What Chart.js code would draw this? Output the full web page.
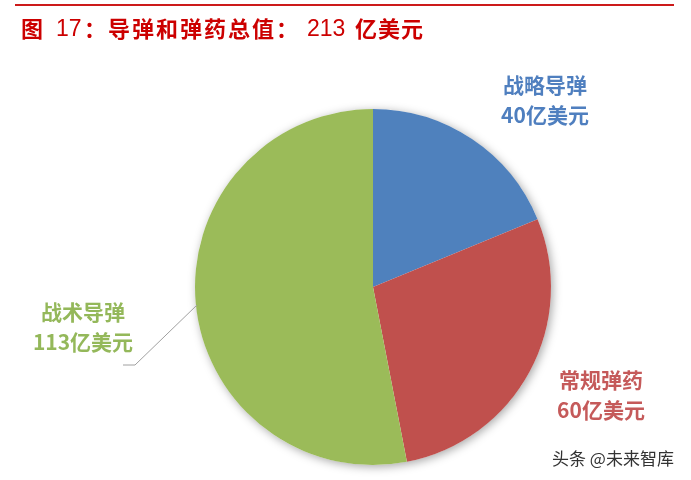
<!DOCTYPE html>
<html><head><meta charset="utf-8">
<script src="https://cdn.jsdelivr.net/npm/chart.js@4/dist/chart.umd.min.js"></script>
<style>
html,body{margin:0;padding:0;background:#fff;}
#wrap{position:relative;width:691px;height:480px;overflow:hidden;}
#line{position:absolute;left:15px;top:4px;width:659px;height:2px;background:#CC1A1A;}
.t{position:absolute;top:13px;font-family:"Noto Sans CJK SC","Noto Sans",sans-serif;font-weight:bold;font-size:22px;color:#CC0000;white-space:pre;line-height:28px;}
.n{font-family:"Liberation Sans",Arial,sans-serif;font-weight:normal;font-size:23px;top:14px;}
#wm{position:absolute;left:552px;top:446px;font-family:"Noto Sans CJK SC",sans-serif;font-size:17px;color:#333;line-height:24px;white-space:pre;}
canvas{position:absolute;left:0;top:0;}
</style></head>
<body><div id="wrap">
<canvas id="c" width="691" height="480"></canvas>
<div id="line"></div>
<span class="t" style="left:21px">图</span>
<span class="t n" style="left:56px">17</span>
<span class="t" style="left:84px;letter-spacing:2px">：导弹和弹药总值：</span>
<span class="t n" style="left:307px">213</span>
<span class="t" style="left:355px;letter-spacing:1px">亿美元</span>
<div id="wm">头条 @未来智库</div>
</div>
<script>
const categories = ["战略导弹", "常规弹药", "战术导弹"];
const values = [40, 60, 113];
const valueLabels = ["40亿美元", "60亿美元", "113亿美元"];
const colors = ["#4F81BD", "#C0504D", "#9BBB59"];
const textColors = ["#4F7FBF", "#C55A5A", "#94B85A"];

// label offsets from pie center (px)
const labelPos = [[172, -187], [228, -0 + 108], [-290, 40]];

const labelPlugin = {
  id: 'labels',
  beforeDatasetsDraw(chart) {
    const ctx = chart.ctx;
    ctx.save();
    ctx.shadowColor = 'rgba(0,0,0,0.35)';
    ctx.shadowBlur = 10;
    ctx.shadowOffsetX = 2;
    ctx.shadowOffsetY = 2;
    const arc = chart.getDatasetMeta(0).data[0];
    ctx.beginPath();
    ctx.arc(arc.x, arc.y, arc.outerRadius, 0, Math.PI * 2);
    ctx.fillStyle = '#fff';
    ctx.fill();
    ctx.restore();
  },
  afterDatasetsDraw(chart) {
    const ctx = chart.ctx;
    const meta = chart.getDatasetMeta(0);
    const cx = meta.data[0].x, cy = meta.data[0].y;
    ctx.save();
    ctx.font = 'bold 21px "Noto Sans CJK SC", sans-serif';
    ctx.textAlign = 'center';
    ctx.textBaseline = 'middle';
    meta.data.forEach((a, i) => {
      const lx = cx + labelPos[i][0], ly = cy + labelPos[i][1];
      ctx.fillStyle = textColors[i];
      ctx.fillText(categories[i], lx, ly - 15);
      ctx.fillText(valueLabels[i], lx, ly + 15);
    });
    // leader line for green slice
    ctx.strokeStyle = '#A0A0A0';
    ctx.lineWidth = 1;
    ctx.beginPath();
    ctx.moveTo(cx - 176, cy + 18);
    ctx.lineTo(cx - 238, cy + 78);
    ctx.lineTo(cx - 250, cy + 78);
    ctx.stroke();
    ctx.restore();
  }
};

new Chart(document.getElementById('c'), {
  type: 'pie',
  data: {
    labels: categories,
    datasets: [{ data: values, backgroundColor: colors, borderWidth: 0 }]
  },
  options: {
    responsive: false,
    animation: false,
    layout: { padding: { top: 109, bottom: 15, left: 195, right: 140 } },
    plugins: { legend: { display: false }, tooltip: { enabled: false } }
  },
  plugins: [labelPlugin]
});
</script>
</body></html>
